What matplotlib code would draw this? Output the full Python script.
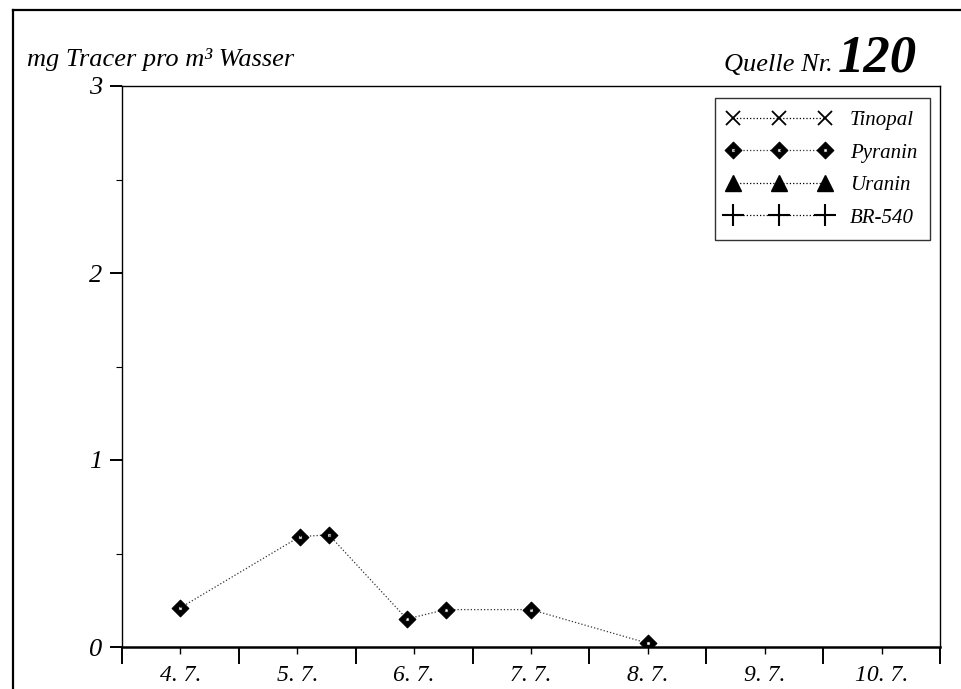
import numpy as np
import matplotlib
matplotlib.use("Agg")
import matplotlib.pyplot as plt
from matplotlib.path import Path
from matplotlib.lines import Line2D
from matplotlib.ticker import MultipleLocator, FixedLocator, NullFormatter

# Messwerte Quelle 120 (Stunden ab 4.7. 0 Uhr, mg/m3)
pyranin_h = [12, 36.5, 42.5, 58.5, 66.5, 84, 108]
pyranin_c = [0.21, 0.59, 0.60, 0.15, 0.20, 0.20, 0.02]
tinopal_h, tinopal_c = [], []
uranin_h, uranin_c = [], []
br540_h, br540_c = [], []

days = ['4. 7.', '5. 7.', '6. 7.', '7. 7.', '8. 7.', '9. 7.', '10. 7.']

plt.rcParams['font.family'] = ['Liberation Serif', 'DejaVu Serif']
plt.rcParams['font.style'] = 'italic'

# Raute mit weissem Punkt in der Mitte
outer = [(0, 1), (-1, 0), (0, -1), (1, 0), (0, 1)]
inner = [(-0.22, 0.22), (0.22, 0.22), (0.22, -0.22), (-0.22, -0.22), (-0.22, 0.22)]
codes = [Path.MOVETO, Path.LINETO, Path.LINETO, Path.LINETO, Path.CLOSEPOLY] * 2
raute = Path(outer + inner, codes)

fig = plt.figure(figsize=(9.62, 6.89), dpi=100)
ax = fig.add_axes([122 / 962, 1 - 647 / 689, 818 / 962, 561 / 689])

lw = 0.9
ax.plot(np.array(tinopal_h) / 24, tinopal_c, ls=':', lw=lw, color='black',
        marker='x', ms=10, mew=1.3, label='Tinopal')
ax.plot(np.array(pyranin_h) / 24, pyranin_c, ls=':', lw=lw, color='#333333',
        marker=raute, ms=12, mfc='black', mec='black', mew=0.8, label='Pyranin')
ax.plot(np.array(uranin_h) / 24, uranin_c, ls=':', lw=lw, color='black',
        marker='^', ms=11, mfc='black', mec='black', label='Uranin')
ax.plot(np.array(br540_h) / 24, br540_c, ls=':', lw=lw, color='black',
        marker='+', ms=16, mew=1.5, label='BR-540')

ax.set_xlim(0, 7)
ax.set_ylim(0, 3)

ax.xaxis.set_major_locator(MultipleLocator(1))
ax.xaxis.set_major_formatter(NullFormatter())
ax.xaxis.set_minor_locator(FixedLocator(np.arange(7) + 0.5))
ax.set_xticklabels(days, minor=True)
ax.tick_params(axis='x', which='major', direction='out', length=12, width=1.4)
ax.tick_params(axis='x', which='minor', direction='out', length=5, width=1.0,
               pad=8, labelsize=17)

ax.yaxis.set_major_locator(MultipleLocator(1))
ax.yaxis.set_minor_locator(MultipleLocator(0.5))
ax.tick_params(axis='y', which='major', direction='out', length=9, width=1.4,
               pad=5, labelsize=19)
ax.tick_params(axis='y', which='minor', direction='out', length=4, width=0.8)

for side in ['left', 'top', 'right']:
    ax.spines[side].set_linewidth(1.0)
ax.spines['bottom'].set_linewidth(1.8)

leg = ax.legend(loc='upper right', bbox_to_anchor=(930 / 962, 1 - 98 / 689),
                bbox_transform=fig.transFigure, numpoints=3, handlelength=5.0,
                fontsize=15, frameon=True, fancybox=False, edgecolor='black',
                borderpad=0.6, labelspacing=0.62, handletextpad=0.9,
                borderaxespad=0)
leg.get_frame().set_linewidth(1.0)

fig.text(27 / 962, 1 - 66 / 689, 'mg Tracer pro m³ Wasser', fontsize=19,
         va='baseline', ha='left')
fig.text(833 / 962, 1 - 71 / 689, 'Quelle Nr.', fontsize=19,
         va='baseline', ha='right')
fig.text(917 / 962, 1 - 72 / 689, '120', fontsize=38, fontweight='bold',
         va='baseline', ha='right')

# äusserer Rahmen
fig.add_artist(Line2D([13 / 962, 13 / 962], [1 - 10 / 689, 0], color='black', lw=1.6))
fig.add_artist(Line2D([13 / 962, 1], [1 - 10 / 689, 1 - 10 / 689], color='black', lw=1.6))

fig.savefig('out.png', dpi=100)
